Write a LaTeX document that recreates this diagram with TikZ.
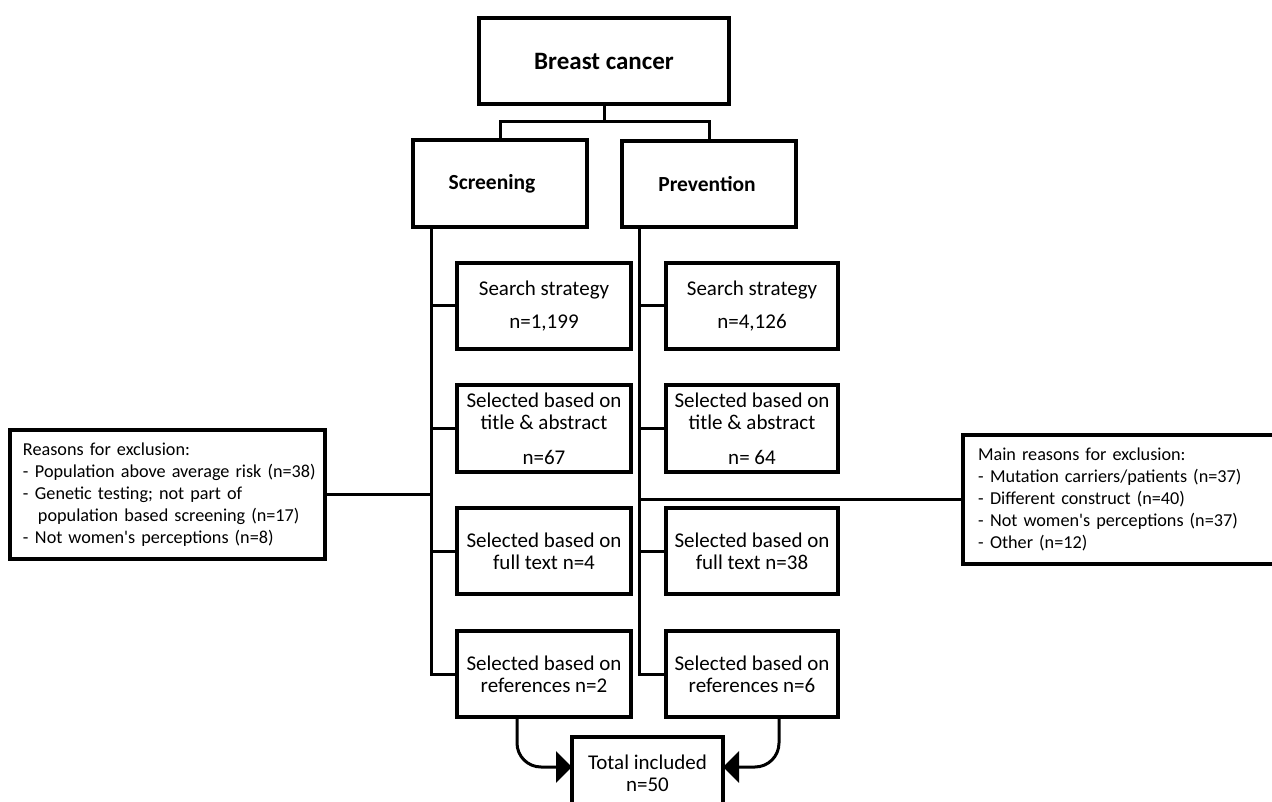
\documentclass[tikz,border=0pt]{standalone}
\usepackage{fontspec}
\setmainfont{Carlito}[Ligatures=TeXOff]
\usetikzlibrary{arrows.meta}
\newcommand{\exitem}[1]{\mbox{\makebox[12pt][l]{-}#1}}
\begin{document}
\begin{tikzpicture}[x=1pt,y=-1pt,line width=3pt,
  box/.style={draw,line width=3.2pt,inner sep=0pt,align=center,
    minimum width=174pt,minimum height=86pt,font=\fontsize{21}{22}\selectfont},
  headbox/.style={box,font=\bfseries\fontsize{21.5}{22}\selectfont},
  exbox/.style={draw,line width=3.2pt,inner sep=0pt,align=left,
    font=\fontsize{18.2}{22}\selectfont},
  conn/.style={line width=3pt},
  arr/.style={line width=3pt,rounded corners=24pt,-{Triangle[length=16pt,width=31pt]}}]
\useasboundingbox (0,0) rectangle (1272,802);
\clip (0,0) rectangle (1272,802);
% top
\node[headbox,minimum width=250pt,font=\bfseries\fontsize{25}{26}\selectfont] (bc) at (604,61) {Breast cancer};
\node[headbox,minimum height=87pt] (scr) at (500,183.5) {\hspace*{-16pt}Screening};
\node[headbox] (prev) at (709,184) {\hspace*{-4pt}Prevention};
% screening column
\node[box] (ssS) at (544,306) {Search strategy\\[11pt]n=1,199};
\node[box,minimum height=87pt] (taS) at (544,428.5) {Selected based on\\title \& abstract\\[13pt]n=67};
\node[box] (ftS) at (544,551) {Selected based on\\full text n=4};
\node[box] (rfS) at (544,674) {Selected based on\\references n=2};
% prevention column
\node[box,minimum width=172pt] (ssP) at (752,306) {Search strategy\\[11pt]n=4,126};
\node[box,minimum width=172pt,minimum height=87pt] (taP) at (752,428.5) {Selected based on\\title \& abstract\\[13pt]n= 64};
\node[box,minimum width=172pt] (ftP) at (752,551) {Selected based on\\full text n=38};
\node[box,minimum width=172pt] (rfP) at (752,674) {Selected based on\\references n=6};
% total
\node[box,minimum width=151pt,minimum height=73pt] (tot) at (647.5,773.5) {Total included\\n=50};
% exclusion boxes
\node[exbox,minimum width=315pt,minimum height=129pt,text width=289pt] (exL) at (167.5,494.5)
  {\mbox{Reasons for exclusion:}\\
   \exitem{Population above average risk (n=38)}\\
   \exitem{Genetic testing; not part of}\\
   \mbox{\hspace*{15pt}population based screening (n=17)}\\
   \exitem{Not women's perceptions (n=8)}};
\node[exbox,minimum width=330pt,minimum height=129pt,text width=300pt] (exR) at (1128,499.5)
  {\mbox{Main reasons for exclusion:}\\
   \exitem{Mutation carriers/patients (n=37)}\\
   \exitem{Different construct (n=40)}\\
   \exitem{Not women's perceptions (n=37)}\\
   \exitem{Other (n=12)}};
% coordinates
\coordinate (j) at (604,122);
\coordinate (sTop) at (431,227);
\coordinate (sBot) at (431,674);
\coordinate (pTop) at (639,227);
\coordinate (pBot) at (639,674);
\coordinate (aL) at (517,717);
\coordinate (aR) at (779,717);
\coordinate (tL) at (572,767);
\coordinate (tR) at (723,767);
% connectors
\draw[conn] (bc.south) -- (j);
\draw[conn] (scr.north) |- (j) -| (prev.north);
\draw[conn] (sTop) -- (sBot) -- (rfS.west);
\draw[conn] (sTop |- ssS.west) -- (ssS.west);
\draw[conn] (sTop |- taS.west) -- (taS.west);
\draw[conn] (sTop |- ftS.west) -- (ftS.west);
\draw[conn] (pTop) -- (pBot) -- (rfP.west);
\draw[conn] (pTop |- ssP.west) -- (ssP.west);
\draw[conn] (pTop |- taP.west) -- (taP.west);
\draw[conn] (pTop |- ftP.west) -- (ftP.west);
\draw[conn] (exL.east) -- (exL.east -| sTop);
\draw[conn] (exR.west) -- (exR.west -| pTop);
\draw[arr] (aL) |- (tL);
\draw[arr] (aR) |- (tR);
\end{tikzpicture}
\end{document}
